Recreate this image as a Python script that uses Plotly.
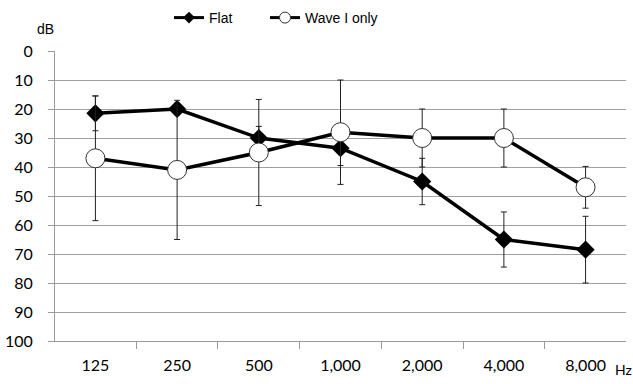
import plotly.graph_objects as go

freqs = ["125", "250", "500", "1,000", "2,000", "4,000", "8,000"]
flat_db = [21.5, 20, 30, 33.5, 45, 65, 68.5]
flat_err = [6, 2, 4, 6, 8, 9.5, 11.5]
wave_db = [37, 41, 35, 28, 30, 30, 47]
wave_err = [21.5, 24, 18.3, 18, 10, 10, 7.2]
y_ticks = [0, 10, 20, 30, 40, 50, 60, 70, 80, 90, 100]

L, R, T, B = 55, 7, 51, 43
PW, PH = 633 - L - R, 384 - T - B


def px(x):
    return (x - L) / PW


def py(y):
    return 1 + (T - y) / PH


fig = go.Figure()

fig.add_trace(go.Scatter(
    x=freqs, y=flat_db, mode="lines+markers", name="Flat", showlegend=False,
    line=dict(color="black", width=3.5),
    marker=dict(symbol="diamond", size=14, color="black", line=dict(width=0)),
    error_y=dict(type="data", array=flat_err, visible=True, color="#222222", thickness=1, width=3),
))
fig.add_trace(go.Scatter(
    x=freqs, y=wave_db, mode="lines+markers", name="Wave I only", showlegend=False,
    line=dict(color="black", width=3.5),
    marker=dict(symbol="circle", size=19, color="white", line=dict(color="#333333", width=1)),
    error_y=dict(type="data", array=wave_err, visible=True, color="#222222", thickness=1, width=3),
))
# legend entries
fig.add_trace(go.Scatter(
    x=[None], y=[None], mode="lines+markers", name="Flat", legend="legend",
    line=dict(color="black", width=3),
    marker=dict(symbol="diamond", size=9, color="black"),
))
fig.add_trace(go.Scatter(
    x=[None], y=[None], mode="lines+markers", name="Wave I only", legend="legend2",
    line=dict(color="black", width=3),
    marker=dict(symbol="circle", size=11, color="white", line=dict(color="#333333", width=1)),
))

leg_common = dict(
    orientation="h", yanchor="middle", y=py(18),
    font=dict(family="Liberation Sans, Arial", size=14, color="black"),
    itemclick=False, bgcolor="rgba(0,0,0,0)", borderwidth=0,
)

fig.update_layout(
    width=633, height=384,
    margin=dict(l=L, r=R, t=T, b=B, pad=0, autoexpand=False),
    paper_bgcolor="white", plot_bgcolor="white",
    showlegend=True,
    legend=dict(x=px(169), xanchor="left", **leg_common),
    legend2=dict(x=px(265), xanchor="left", **leg_common),
    xaxis=dict(
        type="category", categoryorder="array", categoryarray=freqs,
        showgrid=False, showline=True, linecolor="#9a9a9a", linewidth=1,
        ticks="outside", ticklen=7, tickcolor="#9a9a9a", tickson="boundaries",
        tickfont=dict(family="Lato", size=16, color="black"),
        ticklabelstandoff=10, zeroline=False, automargin=False,
    ),
    yaxis=dict(
        range=[100, 0], autorange=False, tickvals=y_ticks,
        showgrid=True, gridcolor="#a0a0a0", gridwidth=1,
        showline=True, linecolor="#9a9a9a", linewidth=1,
        ticks="outside", ticklen=6, tickcolor="#9a9a9a",
        tickfont=dict(family="Lato", size=16, color="black"),
        ticklabelstandoff=12, zeroline=False, automargin=False,
    ),
    annotations=[
        dict(text="dB", xref="paper", yref="paper", x=px(45), y=py(29),
             xanchor="center", yanchor="middle", showarrow=False,
             font=dict(family="Liberation Sans, Arial", size=14, color="black")),
        dict(text="Hz", xref="paper", yref="paper", x=px(613), y=py(369),
             xanchor="left", yanchor="middle", showarrow=False,
             font=dict(family="Lato", size=14, color="black")),
    ],
)

fig.write_html("out.html", config={"displayModeBar": False},
               post_script="document.body.style.margin='0';")
